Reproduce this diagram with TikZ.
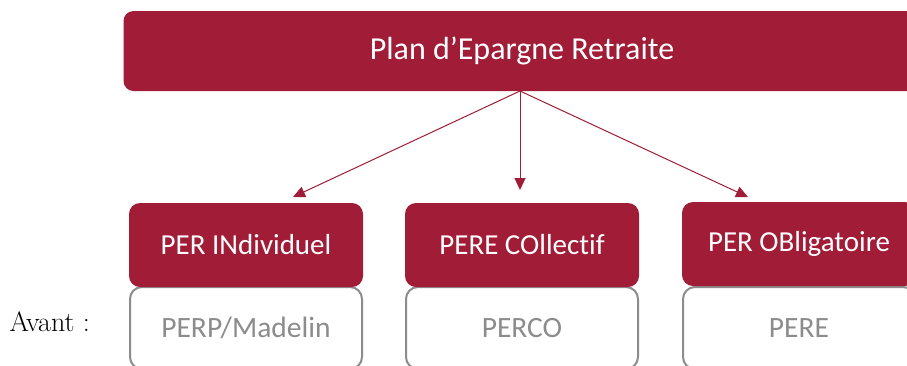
\documentclass[tikz,border=0pt]{standalone}
\usepackage{fontspec}
\setsansfont{Carlito}[Ligatures=NoCommon]
\usetikzlibrary{arrows.meta}
\definecolor{perred}{HTML}{A01C37}
\definecolor{pergrey}{HTML}{8C8C8C}

\begin{document}
\begin{tikzpicture}[
x=1pt,y=-1pt,
redbox/.style={
  fill=perred,
  text=white,
  rounded corners=11pt,
  font=\sffamily\fontsize{29}{32}\selectfont,
  minimum width=234pt,
  minimum height=84pt
  },
oldbox/.style={
  draw=pergrey,
  line width=2pt,
  fill=white,
  text=pergrey,
  rounded corners=12pt,
  font=\sffamily\fontsize{29.5}{32}\selectfont,
  minimum width=232pt,
  minimum height=82pt
  },
every edge/.append style={perred,line width=1pt,-{Triangle[length=12pt,width=11pt]}}
]
\useasboundingbox (0,0) rectangle (907,365);
\clip (0,0) rectangle (907,365);
\node[redbox,minimum width=797pt,minimum height=80pt,rounded corners=10pt,
  font=\sffamily\fontsize{32}{35}\selectfont] (per) at (522,51) {Plan d’Epargne Retraite};
% anciens produits
\foreach \Name/\X/\Text in {perp/246/PERP\slash Madelin,perco/522/PERCO,pere/799/PERE}
  \node[oldbox] (\Name) at (\X,328) {\Text};
% nouveaux produits
\foreach \Name/\X/\Y/\Text in {ind/246/245/PER INdividuel,col/522/245/PERE COllectif,obl/799/244/PER OBligatoire}
  \node[redbox] (\Name) at (\X,\Y) {\Text};
\node[font=\fontsize{28}{30}\selectfont,anchor=west] (avant) at (6,322) {Avant :};
\coordinate (t1) at (293,197);
\coordinate (t2) at (520,190);
\coordinate (t3) at (748,197);
\coordinate (s) at (520,91);
\path
	(s) edge (t1)
	(s) edge (t2)
	(s) edge (t3);
\end{tikzpicture}
\end{document}
